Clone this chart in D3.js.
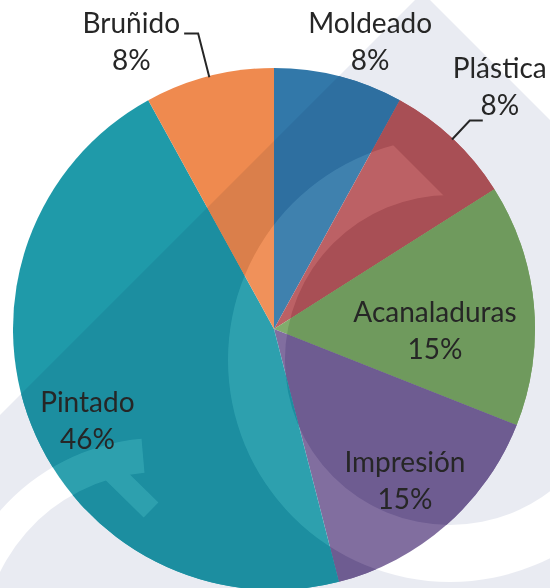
<!DOCTYPE html>
<html>
<head>
<meta charset="utf-8">
<script src="https://cdn.jsdelivr.net/npm/d3@7"></script>
<style>
  html, body { margin: 0; padding: 0; background: #ffffff; }
  svg { display: block; }
  text { font-family: Lato, "Open Sans", sans-serif; }
</style>
</head>
<body>
<div id="chart"></div>
<script>
// ---- data ----
const categories = ["Moldeado", "Plástica", "Acanaladuras", "Impresión", "Pintado", "Bruñido"];
const values = [8, 8, 15, 15, 46, 8];
const percentLabels = ["8%", "8%", "15%", "15%", "46%", "8%"];
const colors = ["#3278a9", "#b8565a", "#79a762", "#786499", "#1f9aa9", "#ef8a4f"];

// ---- layout ----
const W = 550, H = 588;
const cx = 274, cy = 329, R = 261;
const fontSize = 28, lineGap = 37, capH = 20;
// label block placement relative to slice middle angle (deg offset, radius)
const labelLayout = {
  "Moldeado":     { dA: 4.1,  r: 303 },
  "Plástica":     { dA: -0.2, r: 331 },
  "Acanaladuras": { dA: 6.1,  r: 161 },
  "Impresión":    { dA: 0.5,  r: 200 },
  "Pintado":      { dA: -4.6, r: 208 },
  "Bruñido":      { dA: -12,  r: 321 }
};
const leaders = {
  "Bruñido":  { elbowR: 305, h: -14 },
  "Plástica": { elbowR: 286, h: 13 }
};

const svg = d3.select("#chart").append("svg")
  .attr("width", W).attr("height", H);
const defs = svg.append("defs");

svg.append("rect").attr("width", W).attr("height", H).attr("fill", "#ffffff");

// ---- watermark geometry ----
const diamondPts = [[422.5, -7.5], [1430, 1000], [-585, 1000]];
const ring1 = d3.arc().innerRadius(165).outerRadius(222).startAngle(0).endAngle(2 * Math.PI)();
const ring2 = d3.arc().innerRadius(178).outerRadius(212)
  .startAngle(-Math.PI).endAngle(-5 * Math.PI / 180)();
// bar
function barPath(x1, y1, x2, y2, w) {
  const dx = x2 - x1, dy = y2 - y1, L = Math.hypot(dx, dy);
  const nx = -dy / L * w / 2, ny = dx / L * w / 2;
  return `M${x1 + nx},${y1 + ny}L${x2 + nx},${y2 + ny}L${x2 - nx},${y2 - ny}L${x1 - nx},${y1 - ny}Z`;
}
const bar = barPath(96, 456, 151, 510, 21);

defs.append("clipPath").attr("id", "halfPlane")
  .append("polygon").attr("points", "-1000,-1248 2000,1752 -1000,1752");
defs.append("clipPath").attr("id", "pieClip")
  .append("circle").attr("cx", cx).attr("cy", cy).attr("r", R);

function addWhiteShapes(g, fill) {
  g.append("g").attr("clip-path", "url(#halfPlane)")
    .append("path").attr("d", ring1).attr("transform", "translate(450,360)").attr("fill", fill);
  g.append("path").attr("d", ring2).attr("transform", "translate(160,650)").attr("fill", fill);
  g.append("path").attr("d", bar).attr("fill", fill);
}

const mask = defs.append("mask").attr("id", "notWhite")
  .attr("maskUnits", "userSpaceOnUse").attr("x", -100).attr("y", -100)
  .attr("width", W + 200).attr("height", H + 200);
mask.append("rect").attr("x", -100).attr("y", -100).attr("width", W + 200).attr("height", H + 200).attr("fill", "#fff");
addWhiteShapes(mask.append("g"), "#000");

// background gray diamond
svg.append("polygon").attr("points", diamondPts.map(p => p.join(",")).join(" "))
  .attr("fill", "#e9ebf2").attr("mask", "url(#notWhite)");

// ---- pie ----
const pie = d3.pie().sort(null).value(d => d.value);
const data = categories.map((c, i) => ({ name: c, value: values[i], pct: percentLabels[i], color: colors[i] }));
const arcs = pie(data);
const arc = d3.arc().innerRadius(0).outerRadius(R);

const gPie = svg.append("g").attr("transform", `translate(${cx},${cy})`);
gPie.selectAll("path.base").data(arcs).join("path")
  .attr("class", "base").attr("d", arc).attr("fill", d => d.data.color);

// darker version inside the watermark diamond
function mult(c) {
  const k = d3.rgb(c), m = d3.rgb("#e9ebf2");
  return d3.rgb(k.r * m.r / 255, k.g * m.g / 255, k.b * m.b / 255).formatHex();
}
defs.append("clipPath").attr("id", "diamondClip")
  .append("polygon").attr("points", diamondPts.map(p => p.join(",")).join(" "));
const gDark = svg.append("g").attr("clip-path", "url(#diamondClip)")
  .append("g").attr("mask", "url(#notWhite)")
  .append("g").attr("transform", `translate(${cx},${cy})`);
gDark.selectAll("path").data(arcs).join("path")
  .attr("d", arc).attr("fill", d => mult(d.data.color));

// faint lightening of the watermark strokes inside the pie
const gLight = svg.append("g").attr("clip-path", "url(#pieClip)").attr("opacity", 0.07);
addWhiteShapes(gLight, "#fff");

// ---- labels ----
const gLab = svg.append("g");
const toRad = Math.PI / 180;
arcs.forEach(d => {
  const mid = (d.startAngle + d.endAngle) / 2;
  const L = labelLayout[d.data.name];
  const a = mid + L.dA * toRad;
  const x = cx + L.r * Math.sin(a);
  const y = cy - L.r * Math.cos(a);
  const t = gLab.append("text").attr("text-anchor", "middle")
    .attr("font-size", fontSize).attr("fill", "#262626");
  t.append("tspan").attr("x", x).attr("y", y - lineGap / 2 + capH / 2).text(d.data.name);
  t.append("tspan").attr("x", x).attr("y", y + lineGap / 2 + capH / 2).text(d.data.pct);

  const ld = leaders[d.data.name];
  if (ld) {
    const p0 = [cx + (R - 1) * Math.sin(mid), cy - (R - 1) * Math.cos(mid)];
    const p1 = [cx + ld.elbowR * Math.sin(mid), cy - ld.elbowR * Math.cos(mid)];
    const p2 = [p1[0] + ld.h, p1[1]];
    gLab.append("path").attr("d", d3.line()([p0, p1, p2]))
      .attr("fill", "none").attr("stroke", "#262626").attr("stroke-width", 2);
  }
});
</script>
</body>
</html>
